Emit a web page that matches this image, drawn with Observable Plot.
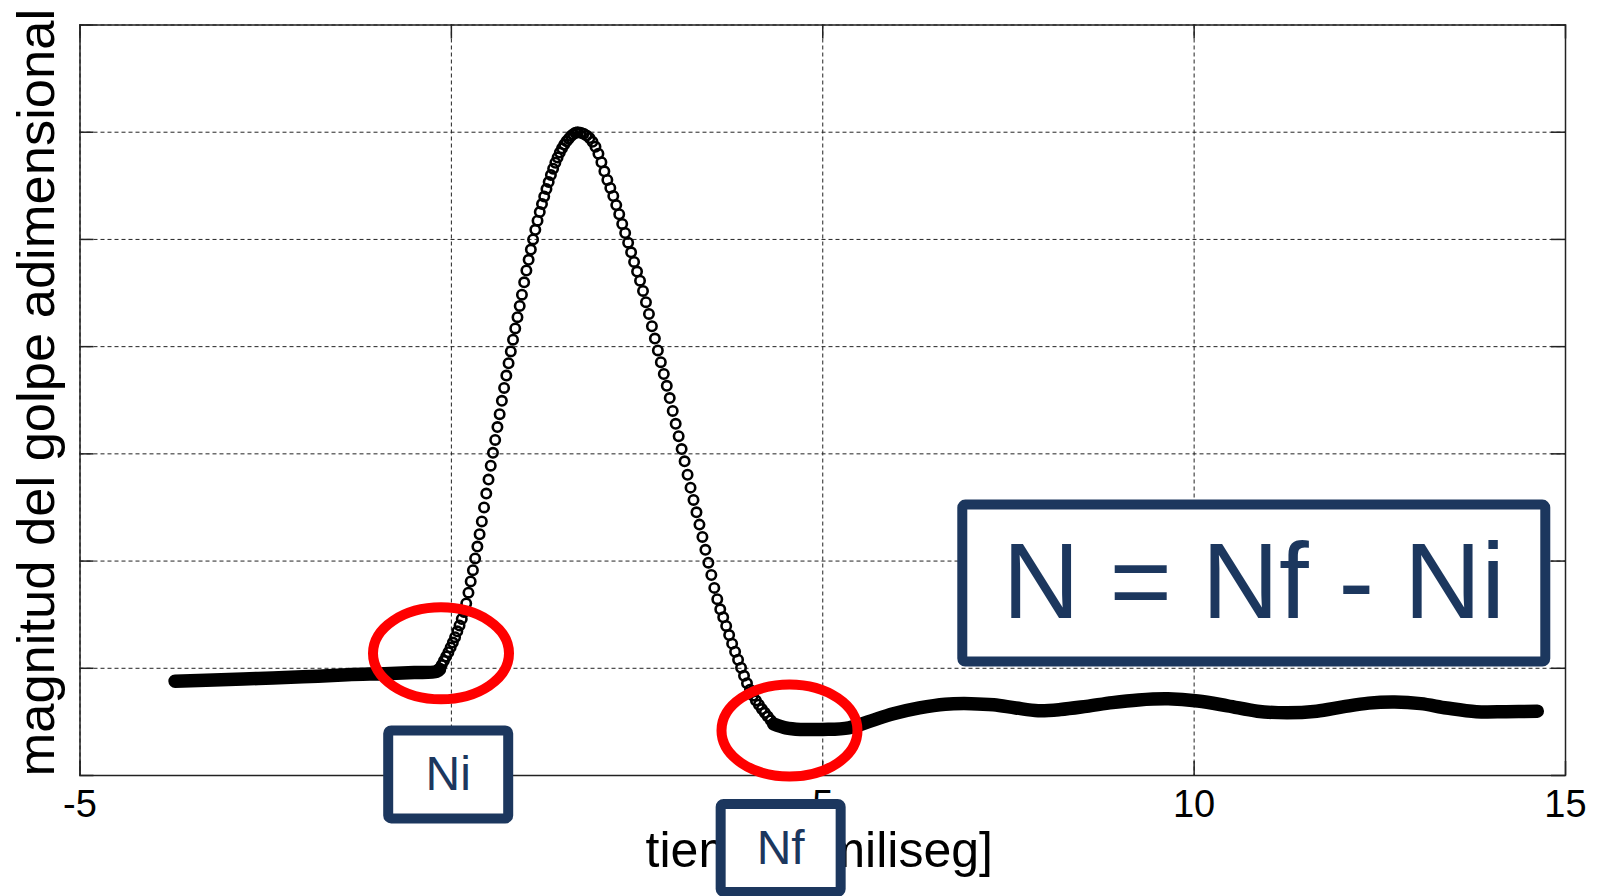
<!DOCTYPE html>
<html>
<head>
<meta charset="utf-8">
<script src="https://cdn.jsdelivr.net/npm/d3@7"></script>
<script src="https://cdn.jsdelivr.net/npm/@observablehq/plot@0.6"></script>
<style>
html, body { margin: 0; padding: 0; background: #fff; overflow: hidden; }
#chart svg { display: block; }
</style>
</head>
<body>
<div id="chart"></div>
<script>
// ---------- data ----------
const xTicks = [-5, 0, 5, 10, 15];
const xTickLabels = ["-5", "0", "5", "10", "15"];
const yTicks = [-0.2, 0, 0.2, 0.4, 0.6, 0.8, 1.0, 1.2];

const xLabel = "tiempo [miliseg]";
const yLabel = "magnitud del golpe adimensional";

// baseline before the blow (dense markers, drawn as a thick band)
const preT = [-3.72, -3.2, -2.6, -2.0, -1.4, -0.9, -0.5, -0.2, -0.16];
const preY = [-0.024, -0.022, -0.019, -0.016, -0.012, -0.010, -0.008, -0.006, -0.002];

// rising flank (open circle markers)
const riseT = [-0.16,-0.13,-0.10,-0.07,-0.04,-0.01,0.02,0.05,0.08,0.11,0.14,0.17,0.20,0.23,0.26,0.29,0.32,0.35,0.38,0.41,0.44,0.47,0.50,0.53,0.56,0.59,0.62,0.65,0.68,0.71,0.74,0.77,0.80,0.83,0.86,0.89,0.92,0.95,0.98,1.01,1.04,1.07,1.10,1.13,1.16,1.19,1.22,1.25,1.28,1.31,1.34,1.37,1.40,1.43,1.46,1.49,1.52,1.55,1.58,1.61,1.64,1.67,1.70];
const riseY = [-0.002,0.006,0.014,0.022,0.030,0.039,0.048,0.058,0.069,0.080,0.092,0.105,0.121,0.141,0.162,0.183,0.205,0.227,0.250,0.274,0.300,0.326,0.352,0.378,0.402,0.426,0.450,0.474,0.499,0.523,0.546,0.569,0.591,0.613,0.634,0.655,0.676,0.697,0.720,0.742,0.762,0.781,0.800,0.818,0.835,0.851,0.866,0.880,0.894,0.907,0.920,0.932,0.943,0.953,0.962,0.970,0.977,0.983,0.988,0.993,0.996,0.999,1.000];

// falling flank (open circle markers)
const fallT = [1.74,1.78,1.82,1.86,1.90,1.94,1.98,2.02,2.06,2.10,2.14,2.18,2.22,2.26,2.30,2.34,2.38,2.42,2.46,2.50,2.54,2.58,2.62,2.66,2.70,2.74,2.78,2.82,2.86,2.90,2.94,2.98,3.02,3.06,3.10,3.14,3.18,3.22,3.26,3.30,3.34,3.38,3.42,3.46,3.50,3.54,3.58,3.62,3.66,3.70,3.74,3.78,3.82,3.86,3.90,3.94,3.98,4.02,4.06,4.10,4.14,4.18,4.22,4.26,4.30,4.34];
const fallY = [0.999,0.997,0.994,0.989,0.982,0.973,0.960,0.944,0.927,0.911,0.896,0.881,0.864,0.847,0.829,0.812,0.794,0.776,0.758,0.740,0.723,0.704,0.683,0.661,0.638,0.615,0.593,0.571,0.549,0.527,0.504,0.480,0.456,0.433,0.409,0.386,0.361,0.337,0.314,0.291,0.268,0.245,0.221,0.197,0.174,0.150,0.129,0.110,0.095,0.079,0.062,0.046,0.031,0.016,0.001,-0.014,-0.028,-0.040,-0.051,-0.060,-0.068,-0.076,-0.083,-0.090,-0.097,-0.104];

// residual after the blow (dense markers, drawn as a thick band)
const postT = [4.34,4.50,4.70,5.00,5.35,5.65,5.95,6.30,6.65,7.00,7.30,7.60,7.90,8.20,8.55,8.90,9.25,9.65,10.05,10.45,10.85,11.25,11.65,12.00,12.35,12.70,13.05,13.40,13.80,14.20,14.62];
const postY = [-0.104,-0.111,-0.114,-0.114,-0.111,-0.098,-0.085,-0.074,-0.067,-0.066,-0.068,-0.074,-0.079,-0.077,-0.071,-0.064,-0.059,-0.057,-0.061,-0.070,-0.080,-0.083,-0.080,-0.072,-0.065,-0.063,-0.066,-0.074,-0.081,-0.081,-0.080];

// annotations (anchors in data units)
const circleNotes = [
  {name: "Ni", t: -0.133, v: 0.027},
  {name: "Nf", t: 4.559, v: -0.117}
];
const boxNotes = [
  {text: "Ni", t: -0.036, v: -0.199, kind: "small"},
  {text: "Nf", t: 4.44, v: -0.336, kind: "small"},
  {text: "N = Nf - Ni", t: 10.81, v: 0.158, kind: "big"}
];

// ---------- build ----------
const rows = (T, Y) => T.slice(0, Math.min(T.length, Y.length)).map((t, i) => ({t, v: Y[i]}));
const pre = rows(preT, preY);
const pulse = rows(riseT, riseY).concat(rows(fallT, fallY));
const post = rows(postT, postY);

const W = 1599, H = 896;
const mL = 79.5, mR = 34, mT = 24.5, mB = 121;
const xDom = [-5, 15], yDom = [-0.2, 1.2];
const tickPx = 14;
const tlX = tickPx * (xDom[1] - xDom[0]) / (W - mL - mR);
const tlY = tickPx * (yDom[1] - yDom[0]) / (H - mT - mB);
const axisColor = "#222";
const navy = "#1c375e";
const font = "'Liberation Sans', Arial, Helvetica, sans-serif";

const chart = Plot.plot({
  width: W,
  height: H,
  marginLeft: mL, marginRight: mR, marginTop: mT, marginBottom: mB,
  x: {domain: xDom, axis: null, label: null},
  y: {domain: yDom, axis: null, label: null},
  style: {fontFamily: font, fontSize: "38px", color: "#000", background: "#fff", overflow: "visible"},
  marks: [
    Plot.gridX(xTicks, {stroke: axisColor, strokeOpacity: 1, strokeWidth: 1, strokeDasharray: "4,3"}),
    Plot.gridY(yTicks, {stroke: axisColor, strokeOpacity: 1, strokeWidth: 1, strokeDasharray: "4,3"}),
    Plot.ruleX(xTicks, {x: d => d, y1: yDom[0], y2: yDom[0] + tlY, stroke: axisColor, strokeWidth: 1.5}),
    Plot.ruleX(xTicks, {x: d => d, y1: yDom[1], y2: yDom[1] - tlY, stroke: axisColor, strokeWidth: 1.5}),
    Plot.ruleY(yTicks, {y: d => d, x1: xDom[0], x2: xDom[0] + tlX, stroke: axisColor, strokeWidth: 1.5}),
    Plot.ruleY(yTicks, {y: d => d, x1: xDom[1], x2: xDom[1] - tlX, stroke: axisColor, strokeWidth: 1.5}),
    Plot.frame({stroke: axisColor, strokeWidth: 1.5}),
    Plot.line(pre, {x: "t", y: "v", stroke: "#000", strokeWidth: 13.5, strokeLinecap: "round", strokeLinejoin: "round", curve: "catmull-rom"}),
    Plot.line(post, {x: "t", y: "v", stroke: "#000", strokeWidth: 13.5, strokeLinecap: "round", strokeLinejoin: "round", curve: "catmull-rom"}),
    Plot.dot(pulse, {x: "t", y: "v", r: 4.7, stroke: "#000", strokeWidth: 2.6, fill: "none"}),
    Plot.axisX(xTicks, {anchor: "bottom", tickSize: 0, tickPadding: 15, fontSize: 38, label: null,
      tickFormat: d => xTickLabels[xTicks.indexOf(d)], fill: "#000"})
  ]
});

document.getElementById("chart").appendChild(chart);

const svg = d3.select(chart);
const sx = chart.scale("x"), sy = chart.scale("y");

// axis titles
svg.append("text")
  .attr("x", (mL + W - mR) / 2 - 3)
  .attr("y", 867)
  .attr("text-anchor", "middle")
  .attr("font-family", font)
  .attr("font-size", 50)
  .attr("fill", "#000")
  .text(xLabel);

svg.append("text")
  .attr("transform", `translate(54,${(mT + H - mB) / 2 - 7}) rotate(-90)`)
  .attr("text-anchor", "middle")
  .attr("font-family", font)
  .attr("font-size", 52.5)
  .attr("fill", "#000")
  .text(yLabel);

// red ellipses
const ell = {rx: 68, ry: 46, sw: 10};
for (const c of circleNotes) {
  svg.append("ellipse")
    .attr("cx", sx.apply(c.t)).attr("cy", sy.apply(c.v))
    .attr("rx", ell.rx).attr("ry", ell.ry)
    .attr("fill", "none").attr("stroke", "#ff0000").attr("stroke-width", ell.sw);
}

// navy boxes
const boxStyle = {
  small: {w: 120, h: 88, sw: 10, fs: 48},
  big: {w: 583, h: 157, sw: 10, fs: 107}
};
for (const b of boxNotes) {
  const s = boxStyle[b.kind];
  const cx = sx.apply(b.t), cy = sy.apply(b.v);
  svg.append("rect")
    .attr("x", cx - s.w / 2).attr("y", cy - s.h / 2)
    .attr("width", s.w).attr("height", s.h)
    .attr("rx", 3)
    .attr("fill", "#fff").attr("stroke", navy).attr("stroke-width", s.sw);
  svg.append("text")
    .attr("x", cx).attr("y", cy + s.fs * 0.33)
    .attr("text-anchor", "middle")
    .attr("font-family", font)
    .attr("font-size", s.fs)
    .attr("fill", navy)
    .text(b.text);
}
</script>
</body>
</html>
